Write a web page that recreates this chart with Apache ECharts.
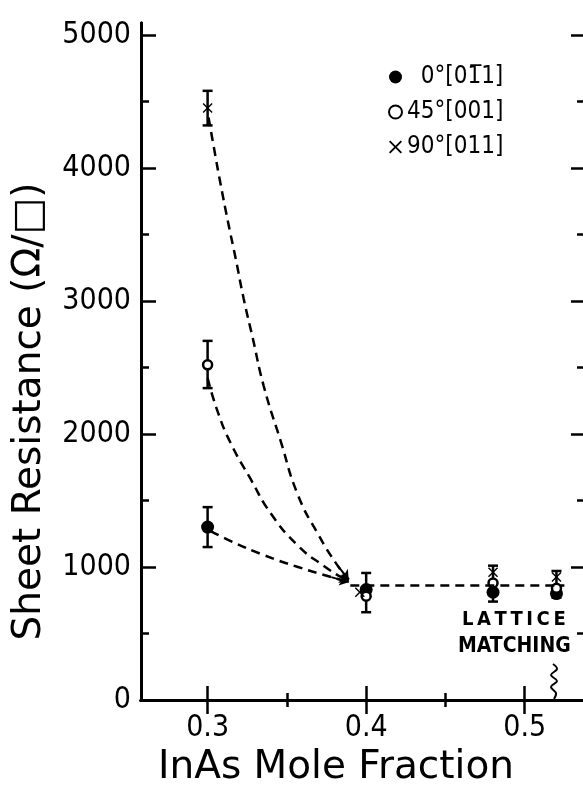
<!DOCTYPE html>
<html>
<head>
<meta charset="utf-8">
<script src="https://cdn.jsdelivr.net/npm/echarts@6/dist/echarts.min.js"></script>
<style>
  html, body { margin: 0; padding: 0; background: #fff; }
  #main { width: 583px; height: 785px; }
</style>
</head>
<body>
<div id="main"></div>
<script>
// 数据：从图上读出来的
var seriesNames = ['0°[01\u03051]', '45°[001]', '90°[011]'];

var x0 = [0.3, 0.4, 0.48, 0.52];
var y0 = [1300, 830, 810, 800];
var x45 = [0.3, 0.4, 0.48, 0.52];
var y45 = [2520, 780, 880, 840];
var x90 = [0.3, 0.396, 0.48, 0.52];
var y90 = [4450, 810, 960, 925];

// 误差棒
var errX = [0.3, 0.3, 0.3, 0.4, 0.48, 0.52];
var errLow = [1150, 2345, 4320, 660, 740, 770];
var errHigh = [1450, 2700, 4580, 955, 1010, 970];

// 虚线（手画的趋势线）
var curve90X = [0.3006, 0.3038, 0.308, 0.3133, 0.3177, 0.3228, 0.3285, 0.3354, 0.346, 0.357, 0.370, 0.382, 0.389];
var curve90Y = [4380, 4165, 3890, 3570, 3320, 3015, 2720, 2360, 1950, 1540, 1240, 1010, 905];
var curve45X = [0.3, 0.3063, 0.3146, 0.3272, 0.340, 0.357, 0.373, 0.386, 0.389];
var curve45Y = [2420, 2170, 1930, 1660, 1400, 1160, 1010, 910, 895];
var curve0X = [0.302, 0.3146, 0.3354, 0.357, 0.378, 0.389];
var curve0Y = [1270, 1195, 1090, 1000, 924, 886];
var flatX = [0.39, 0.525];
var flatY = [860, 860];

var xMajor = [0.3, 0.4, 0.5];
var xMinor = [0.35, 0.45];
var yMajor = [0, 1000, 2000, 3000, 4000, 5000];
var yMinor = [500, 1500, 2500, 3500, 4500];

function pairs(xs, ys) {
    return xs.map(function (v, i) { return [v, ys[i]]; });
}

var font = "'DejaVu Sans Condensed', 'DejaVu Sans', sans-serif";
var wideFont = "'DejaVu Sans', sans-serif";
var black = '#000';
var xMin = 0.258, xMax = 0.538, yMin = 0, yMax = 5090;

function xAx(pos, ticks, len, labels) {
    return {
        type: 'value', position: pos, min: xMin, max: xMax,
        axisLine: { show: true, lineStyle: { color: black, width: 3 } },
        axisTick: { show: true, inside: true, length: len, customValues: ticks, lineStyle: { color: black, width: 2.5 } },
        axisLabel: labels ? { show: true, customValues: ticks, color: black, fontSize: 30, fontFamily: font, margin: 13 } : { show: false },
        splitLine: { show: false }
    };
}
function yAx(pos, ticks, len, labels) {
    return {
        type: 'value', position: pos, min: yMin, max: yMax,
        axisLine: { show: true, lineStyle: { color: black, width: 3 } },
        axisTick: { show: true, inside: true, length: len, customValues: ticks, lineStyle: { color: black, width: 2.5 } },
        axisLabel: labels ? {
            show: true, customValues: ticks, color: black, fontSize: 30, fontFamily: font, margin: 10,
            formatter: function (v) { return String(v); }
        } : { show: false },
        splitLine: { show: false }
    };
}

var dashed = { color: black, width: 2.5, type: [9, 6] };

function curve(xs, ys) {
    var d = pairs(xs, ys);
    var n = d.length;
    return {
        type: 'line', data: d, smooth: 0.5, symbol: 'none', silent: true,
        lineStyle: dashed,
        markLine: {
            silent: true, symbol: ['none', 'arrow'], symbolSize: 9,
            lineStyle: { color: black, width: 2, type: 'solid' },
            label: { show: false },
            data: [[{ coord: d[n - 2] }, { coord: d[n - 1] }]]
        }
    };
}

var crossPath = 'path://M0,1L1,0L5,4L9,0L10,1L6,5L10,9L9,10L5,6L1,10L0,9L4,5Z';

var xa0 = xAx('bottom', xMajor, 14, true);
xa0.name = 'InAs Mole Fraction';
xa0.nameLocation = 'middle';
xa0.nameGap = 40;
xa0.nameTextStyle = { color: black, fontSize: 39, fontFamily: wideFont, padding: [0, 54, 0, 0] };

var ya0 = yAx('left', yMajor, 15, true);
ya0.name = 'Sheet Resistance (\u03A9/\u25A1)';
ya0.nameLocation = 'middle';
ya0.nameGap = 92;
ya0.nameTextStyle = { color: black, fontSize: 39, fontFamily: wideFont, padding: [0, 100, 0, 0] };

var myChart = echarts.init(document.getElementById('main'));
var option = {
    backgroundColor: '#fff',
    animation: false,
    grid: { left: 141, right: -2, top: 23, bottom: 85, outerBoundsMode: 'none' },
    xAxis: [
        xa0,
        xAx('bottom', xMinor, 7, false),
        xAx('top', xMajor, 14, false),
        xAx('top', xMinor, 7, false)
    ],
    yAxis: [
        ya0,
        yAx('left', yMinor, 8, false),
        yAx('right', yMajor, 14, false),
        yAx('right', yMinor, 8, false)
    ],
    legend: {
        orient: 'vertical', left: 383, top: 60, itemGap: 11,
        itemWidth: 13, itemHeight: 13, selectedMode: false,
        textStyle: { color: black, fontSize: 24, fontFamily: font },
        formatter: function (name) { return name === seriesNames[0] ? '  ' + name : name; },
        data: seriesNames
    },
    series: [
        curve(curve90X, curve90Y),
        curve(curve45X, curve45Y),
        curve(curve0X, curve0Y),
        { type: 'line', data: pairs(flatX, flatY), symbol: 'none', silent: true, lineStyle: dashed },
        {
            type: 'custom', silent: true,
            data: errX.map(function (v, i) { return [v, errLow[i], errHigh[i]]; }),
            renderItem: function (params, api) {
                var lo = api.coord([api.value(0), api.value(1)]);
                var hi = api.coord([api.value(0), api.value(2)]);
                var w = 5;
                var st = { stroke: black, lineWidth: 2.5 };
                return {
                    type: 'group',
                    children: [
                        { type: 'line', shape: { x1: lo[0], y1: lo[1], x2: hi[0], y2: hi[1] }, style: st },
                        { type: 'line', shape: { x1: lo[0] - w, y1: lo[1], x2: lo[0] + w, y2: lo[1] }, style: st },
                        { type: 'line', shape: { x1: hi[0] - w, y1: hi[1], x2: hi[0] + w, y2: hi[1] }, style: st }
                    ]
                };
            },
            encode: { x: 0, y: [1, 2] }
        },
        {
            name: seriesNames[0], type: 'scatter', data: pairs(x0, y0),
            symbol: 'circle', symbolSize: 13, itemStyle: { color: black, opacity: 1 }
        },
        {
            name: seriesNames[1], type: 'scatter', data: pairs(x45, y45),
            symbol: 'circle', symbolSize: 9, itemStyle: { color: '#fff', borderColor: black, borderWidth: 2.5, opacity: 1 }
        },
        {
            name: seriesNames[2], type: 'scatter', data: pairs(x90, y90),
            symbol: crossPath, symbolSize: 10, itemStyle: { color: black, opacity: 1 }
        }
    ],
    graphic: [
        {
            type: 'text', left: 462, top: 610,
            style: { text: 'L\u2009A\u2009T\u2009T\u2009I\u2009C\u2009E', fill: black, fontSize: 20, fontWeight: 'bold', fontFamily: font }
        },
        {
            type: 'text', left: 458, top: 636,
            style: { text: 'MATCHING', fill: black, fontSize: 21, fontWeight: 'bold', fontFamily: font }
        },
        {
            type: 'polyline', silent: true,
            shape: { points: [[553, 664], [557, 669], [551, 675], [557, 681], [551, 687], [556, 693], [554, 699]], smooth: 0.4 },
            style: { stroke: black, lineWidth: 2, fill: 'none' }
        }
    ]
};
myChart.setOption(option);
</script>
</body>
</html>
